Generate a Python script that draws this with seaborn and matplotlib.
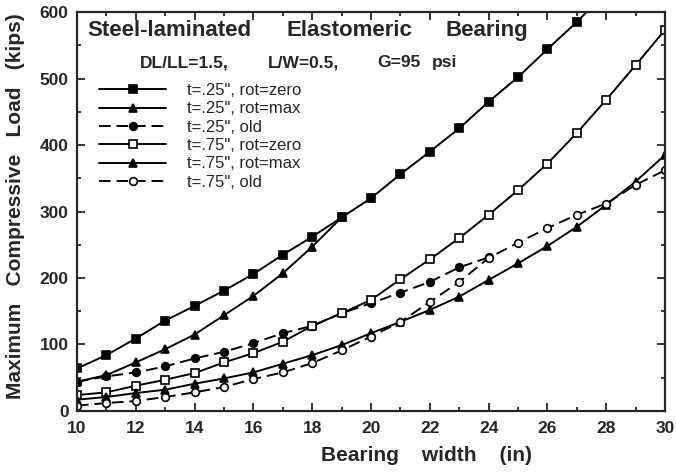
import numpy as np
import pandas as pd
import matplotlib
matplotlib.use("Agg")
import matplotlib.pyplot as plt
import seaborn as sns

# bearing width (in)
width_a = list(range(10, 29))
load_a = [64, 84, 109, 136, 158, 181, 206, 235, 262, 291, 320, 356, 390, 425, 465, 502, 544, 585, 630]

width_b = list(range(10, 20))
load_b = [44, 54, 73, 93, 115, 144, 173, 207, 247, 291]

width_c = list(range(10, 25))
load_c = [44, 52, 58, 67, 79, 89, 102, 117, 128, 147, 162, 178, 194, 216, 231]

width_d = list(range(10, 31))
load_d = [24, 28, 38, 47, 57, 73, 87, 104, 128, 147, 167, 198, 228, 260, 295, 332, 372, 418, 468, 520, 573]

width_e = list(range(10, 31))
load_e = [17, 21, 27, 32, 41, 49, 58, 71, 84, 99, 117, 134, 152, 172, 197, 222, 248, 277, 310, 345, 385]

width_f = list(range(10, 31))
load_f = [8, 12, 15, 21, 28, 36, 48, 58, 72, 91, 112, 134, 164, 194, 230, 253, 275, 295, 312, 340, 362]

labels = ['t=.25", rot=zero', 't=.25", rot=max', 't=.25", old',
          't=.75", rot=zero', 't=.75", rot=max', 't=.75", old']

title_words = ['Steel-laminated', 'Elastomeric', 'Bearing']
subtitle_parts = ['DL/LL=1.5,', 'L/W=0.5,', 'G=95', 'psi']

sns.set_style("ticks")
plt.rcParams['font.family'] = ['Liberation Sans', 'DejaVu Sans']

fig = plt.figure(figsize=(6.76, 4.73), dpi=100)
ax = fig.add_axes([0.1139, 0.1311, 0.8698, 0.8435])

series = [
    (width_a, load_a, 's', 'black', '-'),
    (width_b, load_b, '^', 'black', '-'),
    (width_c, load_c, 'o', 'black', (0, (6, 3))),
    (width_d, load_d, 's', 'white', '-'),
    (width_e, load_e, '^', 'black', '-'),
    (width_f, load_f, 'o', 'white', (0, (6, 3))),
]

for (xs, ys, mk, fc, ls), lab in zip(series, labels):
    df = pd.DataFrame({'width': xs, 'load': ys})
    sns.lineplot(data=df, x='width', y='load', ax=ax, color='black', linewidth=1.4,
                 linestyle=ls, marker=mk, markersize=5.5, markerfacecolor=fc,
                 markeredgecolor='black', markeredgewidth=1.2, label=lab)

ax.set_xlim(10, 30)
ax.set_ylim(0, 600)
ax.set_xticks(range(10, 31, 2))
ax.set_xticks(range(11, 30, 2), minor=True)
ax.set_yticks(range(0, 601, 100))
ax.set_yticks(range(50, 600, 100), minor=True)
ax.tick_params(which='both', direction='in', top=True, right=True, width=1.3)
ax.tick_params(which='major', length=6, labelsize=12.5)
ax.tick_params(axis='x', which='major', pad=7)
ax.tick_params(axis='y', which='major', pad=6)
ax.tick_params(which='minor', length=3)
for lbl in ax.get_xticklabels() + ax.get_yticklabels():
    lbl.set_fontweight('bold')
for sp in ax.spines.values():
    sp.set_linewidth(1.6)

ax.set_xlabel('Bearing    width    (in)', fontsize=15, fontweight='bold')
ax.xaxis.set_label_coords(0.595, -0.088)
ax.set_ylabel('Maximum   Compressive   Load   (kips)', fontsize=15, fontweight='bold')
ax.yaxis.set_label_coords(-0.088, 0.514)

# title words, spread as in the original
for word, xpos in zip(title_words, [0.017, 0.357, 0.626]):
    ax.text(xpos, 0.953, word, transform=ax.transAxes,
            fontsize=16, fontweight='bold', va='center', ha='left')
for part, xpos in zip(subtitle_parts, [0.107, 0.325, 0.510, 0.604]):
    ax.text(xpos, 0.873, part, transform=ax.transAxes,
            fontsize=12.5, fontweight='bold', va='center', ha='left')

ax.legend(loc='upper left', bbox_to_anchor=(0.038, 0.822), frameon=False, fontsize=12,
          handlelength=4.0, handletextpad=1.25, labelspacing=0.2, borderpad=0,
          borderaxespad=0, numpoints=1)

fig.savefig('out.png', dpi=100)
